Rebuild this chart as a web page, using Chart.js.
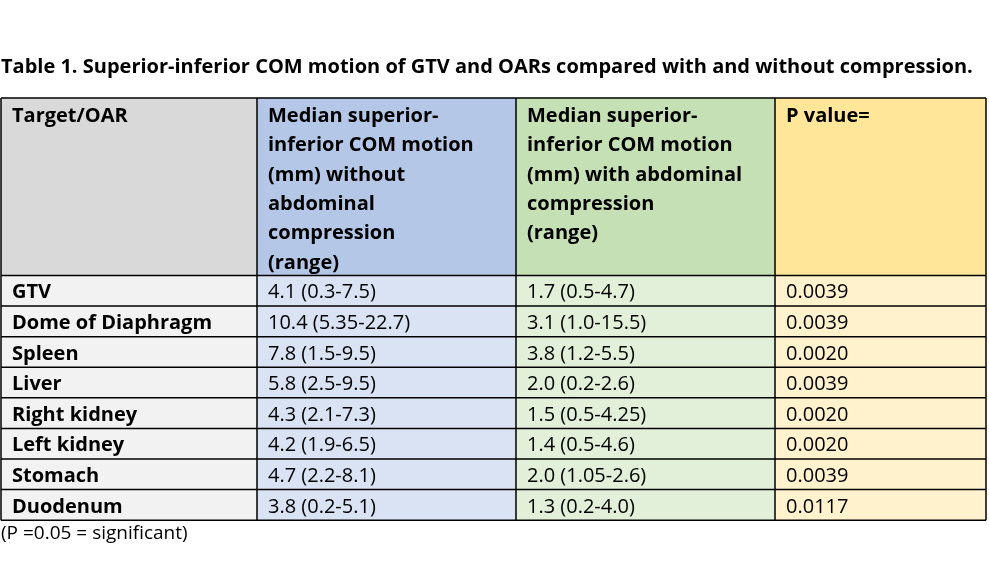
<!DOCTYPE html>
<html>
<head>
<meta charset="utf-8">
<script src="https://cdn.jsdelivr.net/npm/chart.js@4.4.0/dist/chart.umd.min.js"></script>
<style>
  html, body { margin: 0; padding: 0; background: #fff; }
  #wrap { width: 989px; height: 567px; position: relative; }
</style>
</head>
<body>
<div id="wrap"><canvas id="chart_1"></canvas></div>
<script>
// table data
const targets = ['GTV', 'Dome of Diaphragm', 'Spleen', 'Liver', 'Right kidney', 'Left kidney', 'Stomach', 'Duodenum'];
const medianWithout = [4.1, 10.4, 7.8, 5.8, 4.3, 4.2, 4.7, 3.8];
const rangeWithout = ['0.3-7.5', '5.35-22.7', '1.5-9.5', '2.5-9.5', '2.1-7.3', '1.9-6.5', '2.2-8.1', '0.2-5.1'];
const medianWith = [1.7, 3.1, 3.8, 2.0, 1.5, 1.4, 2.0, 1.3];
const rangeWith = ['0.5-4.7', '1.0-15.5', '1.2-5.5', '0.2-2.6', '0.5-4.25', '0.5-4.6', '1.05-2.6', '0.2-4.0'];
const pValues = [0.0039, 0.0039, 0.0020, 0.0039, 0.0020, 0.0020, 0.0039, 0.0117];

const headers = [
    ['Target/OAR'],
    ['Median superior-', 'inferior COM motion', '(mm) without', 'abdominal', 'compression', '(range)'],
    ['Median superior-', 'inferior COM motion', '(mm) with abdominal', 'compression', '(range)'],
    ['P value=']
];
const titleText = 'Table 1. Superior-inferior COM motion of GTV and OARs compared with and without compression.';
const noteText = '(P =0.05 = significant)';

// layout
const colWidths = [256, 259, 259, 211];
const headerSpan = 5.8; // header height in row units
const headFills = ['#d9d9d9', '#b4c7e7', '#c5e0b4', '#ffe699'];
const bodyFills = ['#f2f2f2', '#dae3f3', '#e2f0d9', '#fff2cc'];
const FONT = '"Open Sans", Lato, sans-serif';
const textSize = 20;
const lineGap = 29.4;

function cellText(row, col) {
    if (col == 0) return targets[row];
    if (col == 1) return medianWithout[row].toFixed(1) + ' (' + rangeWithout[row] + ')';
    if (col == 2) return medianWith[row].toFixed(1) + ' (' + rangeWith[row] + ')';
    return pValues[row].toFixed(4);
}

const tablePlugin = {
    id: 'tableCells',
    beforeDatasetsDraw(chart) {
        const ctx = chart.ctx;
        const x = chart.scales.x;
        const y = chart.scales.y;

        let colEdges = [0];
        colWidths.forEach((w) => colEdges.push(colEdges[colEdges.length - 1] + w));
        let rowEdges = [0, headerSpan];
        targets.forEach((t, i) => rowEdges.push(headerSpan + i + 1));

        const px = (v) => x.getPixelForValue(v);
        const py = (v) => y.getPixelForValue(v);

        ctx.save();
        // cell fills
        for (let r = 0; r < rowEdges.length - 1; r++) {
            for (let c = 0; c < colWidths.length; c++) {
                ctx.fillStyle = r == 0 ? headFills[c] : bodyFills[c];
                ctx.fillRect(px(colEdges[c]), py(rowEdges[r]), px(colEdges[c + 1]) - px(colEdges[c]), py(rowEdges[r + 1]) - py(rowEdges[r]));
            }
        }

        // header text
        ctx.fillStyle = '#000';
        ctx.textBaseline = 'middle';
        ctx.textAlign = 'left';
        ctx.font = 'bold ' + textSize + 'px ' + FONT;
        headers.forEach((lines, c) => {
            lines.forEach((line, k) => {
                ctx.fillText(line, px(colEdges[c]) + 11, py(0) + 18 + k * lineGap);
            });
        });

        // body text
        for (let r = 0; r < targets.length; r++) {
            const mid = (py(rowEdges[r + 1]) + py(rowEdges[r + 2])) / 2 + 2;
            for (let c = 0; c < colWidths.length; c++) {
                ctx.font = (c == 0 ? 'bold ' : '') + textSize + 'px ' + FONT;
                ctx.fillText(cellText(r, c), px(colEdges[c]) + 11, mid);
            }
        }

        // grid lines
        ctx.strokeStyle = '#000';
        ctx.lineWidth = 1.5;
        ctx.beginPath();
        rowEdges.forEach((v) => {
            ctx.moveTo(px(0), py(v));
            ctx.lineTo(px(colEdges[colEdges.length - 1]), py(v));
        });
        colEdges.forEach((v) => {
            ctx.moveTo(px(v), py(0));
            ctx.lineTo(px(v), py(rowEdges[rowEdges.length - 1]));
        });
        ctx.stroke();
        ctx.restore();
    }
};

const totalWidth = colWidths.reduce((a, b) => a + b, 0);

const config = {
    type: 'scatter',
    data: { datasets: [{ data: [] }] },
    options: {
        responsive: true,
        maintainAspectRatio: false,
        animation: false,
        layout: {
            padding: { left: 1, right: 3, top: 55, bottom: 22 }
        },
        scales: {
            x: { type: 'linear', display: false, min: 0, max: totalWidth },
            y: { type: 'linear', display: false, min: 0, max: headerSpan + targets.length, reverse: true }
        },
        plugins: {
            legend: { display: false },
            tooltip: { enabled: false },
            title: {
                display: true,
                text: titleText,
                align: 'start',
                color: '#000',
                font: { family: FONT, size: 20, weight: 'bold', lineHeight: 1.2 },
                padding: { top: 0, bottom: 19 }
            },
            subtitle: {
                display: true,
                text: noteText,
                position: 'bottom',
                align: 'start',
                color: '#000',
                font: { family: FONT, size: 19, weight: 'normal', lineHeight: 1.2 },
                padding: { top: 2, bottom: 0 }
            }
        }
    },
    plugins: [tablePlugin]
};

new Chart(document.getElementById('chart_1'), config);
</script>
</body>
</html>
